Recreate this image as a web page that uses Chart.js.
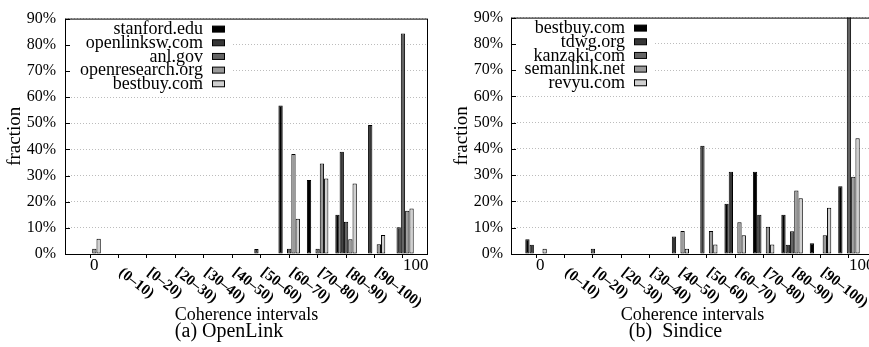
<!DOCTYPE html>
<html>
<head>
<meta charset="utf-8">
<script src="https://cdn.jsdelivr.net/npm/chart.js@4"></script>
<style>
html, body { margin: 0; padding: 0; background: #fff; overflow: hidden; width: 869px; height: 347px; }
canvas { position: absolute; top: 0; }
#grafA { left: 0; }
#grafB { left: 434px; }
</style>
</head>
<body>
<canvas id="grafA" width="440" height="347"></canvas>
<canvas id="grafB" width="446" height="347"></canvas>
<script>
const intervalos = ['0', '(0–10)', '[0–20)', '[20–30)', '[30–40)', '[40–50)', '[50–60)', '[60–70)', '[70–80)', '[80–90)', '[90–100)', '100']
const ticksY = [0, 10, 20, 30, 40, 50, 60, 70, 80, 90]

// (a) OpenLink
const nombresA = ['stanford.edu', 'openlinksw.com', 'anl.gov', 'openresearch.org', 'bestbuy.com']
const stanford     = [null, null, null, null, null, null, null, 56.8, 28.3, 15.0, null, null]
const openlinksw   = [null, null, null, null, null, null, 1.9, null, null, 39.1, 49.3, 10.2]
const anl          = [null, null, null, null, null, null, null, 2.0, 2.0, 12.3, null, 84.3]
const openresearch = [2.0, null, null, null, null, null, null, 38.2, 34.6, 5.6, 3.7, 16.5]
const bestbuyA     = [5.8, null, null, null, null, null, null, 13.5, 28.9, 27.0, 7.3, 17.4]

// (b) Sindice
const nombresB = ['bestbuy.com', 'tdwg.org', 'kanzaki.com', 'semanlink.net', 'revyu.com']
const bestbuyB  = [5.6, null, null, null, null, null, null, 19.1, 31.3, 14.9, 4.1, 25.8]
const tdwg      = [3.5, null, null, null, null, 6.7, 41.2, 31.3, 14.9, 3.5, null, null]
const kanzaki   = [null, null, 2.0, null, null, null, null, null, null, 8.7, null, 95.0]
const semanlink = [null, null, null, null, null, 8.8, 8.8, 12.1, 10.4, 24.2, 7.1, 29.4]
const revyu     = [2.0, null, null, null, null, 2.0, 3.6, 7.1, 3.6, 21.2, 17.6, 44.1]

const colores = ['#000000', '#363636', '#646464', '#9a9a9a', '#d0d0d0']
const fuente = 'Liberation Serif'

function dibujo(opc) {
    return {
        id: 'dibujo',
        afterDraw(chart) {
            const ctx = chart.ctx
            const a = chart.chartArea
            const x = chart.scales.x
            const y = chart.scales.y
            ctx.save()

            // leyenda con fondo blanco
            ctx.fillStyle = '#fff'
            ctx.fillRect(a.left + 1, a.top + 1, opc.leyendaAncho, 73)
            ctx.font = `18px "${fuente}"`
            ctx.textAlign = 'right'
            ctx.textBaseline = 'middle'
            opc.nombres.forEach((n, j) => {
                const fy = a.top + 11 + j * 13.67
                ctx.fillStyle = '#000'
                ctx.fillText(n, a.left + opc.textoDer, fy)
                ctx.fillStyle = colores[j]
                ctx.fillRect(a.left + opc.textoDer + 9.5, fy - 3.5, 12, 6)
                ctx.strokeStyle = '#000'
                ctx.lineWidth = 1
                ctx.strokeRect(a.left + opc.textoDer + 9.5, fy - 3.5, 12, 6)
            })

            // recuadro
            ctx.strokeStyle = '#000'
            ctx.lineWidth = 1
            ctx.strokeRect(a.left + 0.5, a.top + 0.5, a.right - a.left - 1, a.bottom - a.top)

            // marcas del eje y hacia dentro
            ctx.beginPath()
            ticksY.forEach(v => {
                const py = Math.round(y.getPixelForValue(v)) + 0.5
                ctx.moveTo(a.left, py)
                ctx.lineTo(a.left + 5, py)
            })
            ctx.stroke()

            // etiquetas del eje x
            ctx.fillStyle = '#000'
            ctx.textAlign = 'left'
            ctx.textBaseline = 'middle'
            intervalos.forEach((t, i) => {
                const px = x.getPixelForValue(i)
                if (i === 0 || i === intervalos.length - 1) {
                    ctx.font = `17px "${fuente}"`
                    ctx.fillText(t, px, 265.5)
                } else {
                    ctx.save()
                    ctx.font = `bold 15px "${fuente}"`
                    ctx.translate(px + 2, 271)
                    ctx.rotate(38 * Math.PI / 180)
                    ctx.fillText(t, 0, 0)
                    ctx.restore()
                }
            })

            ctx.textAlign = 'center'
            ctx.font = `18px "${fuente}"`
            ctx.fillText('Coherence intervals', (a.left + a.right) / 2, 315)
            ctx.font = `20px "${fuente}"`
            ctx.fillText(opc.subtitulo, opc.subX, 332)
            ctx.restore()
        }
    }
}

function crearGrafica(canvas, series, opc) {
    return new Chart(canvas, {
        type: 'bar',
        data: {
            datasets: series.map((s, j) => ({
                label: opc.nombres[j],
                data: s.map((v, i) => ({ x: i, y: v })),
                backgroundColor: colores[j],
                borderColor: '#000',
                borderWidth: 1,
                borderSkipped: false,
                categoryPercentage: 0.756,
                barPercentage: 1,
                clip: 0
            }))
        },
        options: {
            responsive: false,
            animation: false,
            devicePixelRatio: 1,
            layout: { padding: { top: 12, right: opc.derecha, bottom: 0, left: 0 } },
            plugins: { legend: { display: false }, tooltip: { enabled: false } },
            scales: {
                x: {
                    type: 'linear',
                    min: -0.88,
                    max: 11.88,
                    offset: false,
                    afterBuildTicks: s => { s.ticks = intervalos.map((_, i) => ({ value: i })) },
                    afterFit: s => { s.height = 93 },
                    ticks: { display: false },
                    grid: { offset: false, drawOnChartArea: false, drawTicks: true, tickLength: 4, color: '#000' },
                    border: { display: false }
                },
                y: {
                    min: 0,
                    max: 90,
                    afterFit: s => { s.width = opc.ejeY },
                    afterBuildTicks: s => { s.ticks = ticksY.map(v => ({ value: v })) },
                    ticks: {
                        padding: opc.pad,
                        color: '#000',
                        font: { family: fuente, size: 16 },
                        callback: v => v + '%'
                    },
                    grid: { color: '#bcbcbc', drawTicks: false },
                    border: { display: false, dash: [1, 2] },
                    title: {
                        display: true,
                        text: 'fraction',
                        color: '#000',
                        font: { family: fuente, size: 19 },
                        padding: { top: opc.tituloY, bottom: 0 }
                    }
                }
            }
        },
        plugins: [dibujo(opc)]
    })
}

crearGrafica(document.getElementById('grafA'),
    [stanford, openlinksw, anl, openresearch, bestbuyA],
    { nombres: nombresA, derecha: 12, ejeY: 65, pad: 9, tituloY: 4,
      leyendaAncho: 166, textoDer: 138, subtitulo: '(a) OpenLink', subX: 229 })

crearGrafica(document.getElementById('grafB'),
    [bestbuyB, tdwg, kanzaki, semanlink, revyu],
    { nombres: nombresB, derecha: 6, ejeY: 77, pad: 8, tituloY: 17,
      leyendaAncho: 142, textoDer: 114, subtitulo: '(b)  Sindice', subX: 241.5 })
</script>
</body>
</html>
